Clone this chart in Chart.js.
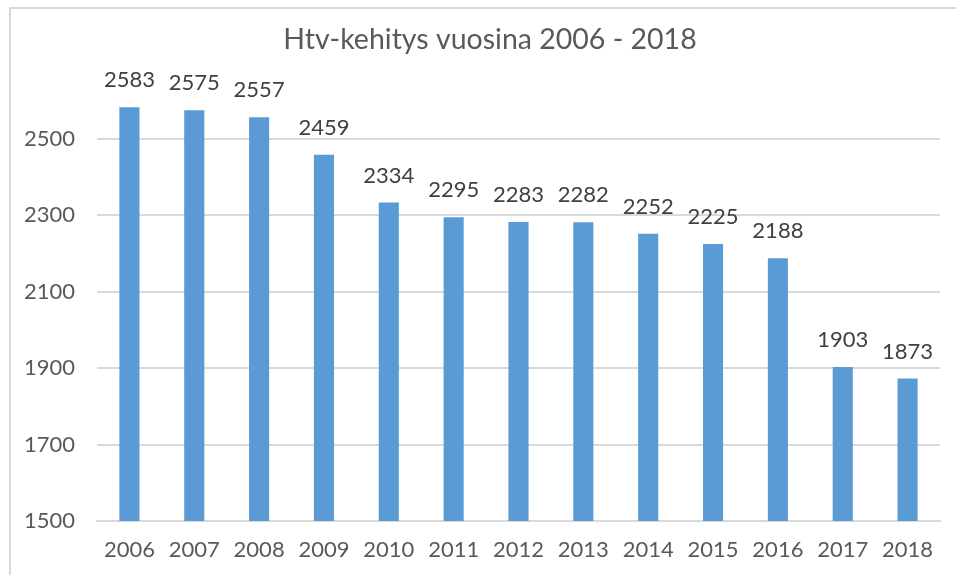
<!DOCTYPE html>
<html>
<head>
<meta charset="utf-8">
<script src="https://cdn.jsdelivr.net/npm/chart.js@4"></script>
<style>
  html, body { margin: 0; padding: 0; background: #fff; }
  #wrap { position: relative; width: 956px; height: 575px; }
  #frame { position: absolute; left: 9px; top: 7px; right: -2px; bottom: -2px;
           border-top: 2px solid #d9d9d9; border-left: 2px solid #d9d9d9; }
  canvas { position: absolute; left: 0; top: 0; }
</style>
</head>
<body>
<div id="wrap">
  <div id="frame"></div>
  <canvas id="chart" width="956" height="575"></canvas>
</div>
<script>
// data
const years = ['2006', '2007', '2008', '2009', '2010', '2011', '2012',
               '2013', '2014', '2015', '2016', '2017', '2018'];
const htv = [2583, 2575, 2557, 2459, 2334, 2295, 2283, 2282, 2252, 2225, 2188, 1903, 1873];
const yTicks = [1500, 1700, 1900, 2100, 2300, 2500];
const titleText = 'Htv-kehitys vuosina 2006 - 2018';

const font = 'Lato, "Open Sans", sans-serif';

// numbers above the bars, plus the title (centred on the frame, not the canvas)
const barLabels = {
  id: 'barLabels',
  afterDatasetsDraw(chart) {
    const ctx = chart.ctx;
    const meta = chart.getDatasetMeta(0);
    ctx.save();
    ctx.font = '22px ' + font;
    ctx.fillStyle = '#404040';
    ctx.textAlign = 'center';
    ctx.textBaseline = 'middle';
    meta.data.forEach((bar, i) => {
      ctx.fillText(htv[i], bar.x, bar.y - 27);
    });
    ctx.font = '28.5px ' + font;
    ctx.fillStyle = '#595959';
    ctx.fillText(titleText, 490, 40);
    ctx.restore();
  }
};

new Chart(document.getElementById('chart'), {
  type: 'bar',
  data: {
    labels: years,
    datasets: [{
      data: htv,
      backgroundColor: '#5b9bd5',
      barPercentage: 0.31,
      categoryPercentage: 1
    }]
  },
  options: {
    responsive: false,
    animation: false,
    layout: { padding: { top: 62.6, right: 16, bottom: 0, left: 0 } },
    plugins: {
      legend: { display: false },
      tooltip: { enabled: false },
      title: { display: false }
    },
    scales: {
      x: {
        grid: { display: false, drawTicks: false },
        border: { color: '#d9d9d9', width: 2 },
        ticks: { color: '#595959', font: { family: font, size: 22 }, padding: 16 },
        afterFit(scale) { scale.height = 54; }
      },
      y: {
        min: 1500,
        max: 2700,
        afterBuildTicks(scale) {
          scale.ticks = yTicks.map(v => ({ value: v }));
        },
        grid: { color: '#d9d9d9', lineWidth: 2, drawTicks: false },
        border: { display: false },
        ticks: {
          color: '#595959', font: { family: font, size: 22 }, padding: 22,
          callback: v => String(v)
        },
        afterFit(scale) { scale.width = 97; }
      }
    }
  },
  plugins: [barLabels]
});
</script>
</body>
</html>
